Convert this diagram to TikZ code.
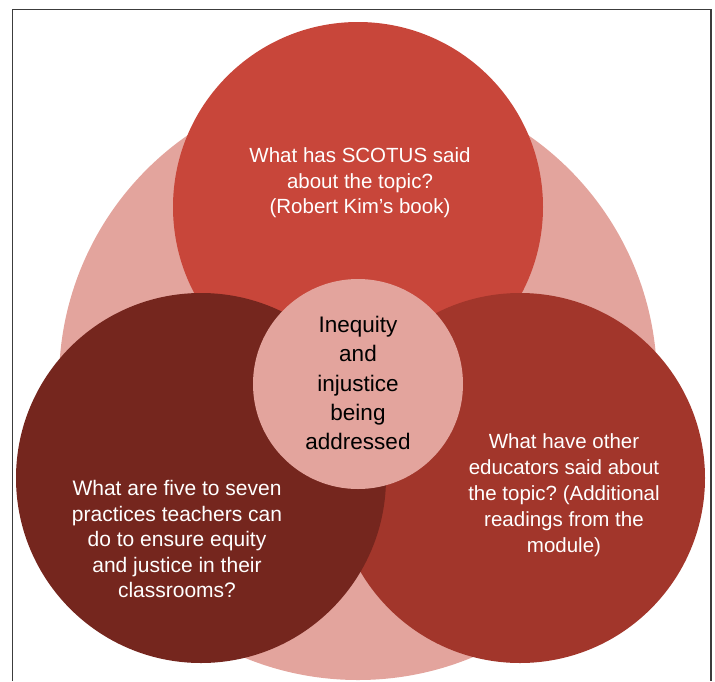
\documentclass[tikz,border=0pt]{standalone}
\usepackage{fontspec}
\setmainfont{Liberation Sans}
\frenchspacing
\definecolor{paleRose}{HTML}{E3A49D}
\definecolor{brickRed}{HTML}{C8463A}
\definecolor{rustRed}{HTML}{A2362B}
\definecolor{maroon}{HTML}{75261E}
\definecolor{frameGray}{HTML}{3C3C3C}
\begin{document}
\begin{tikzpicture}[x=1pt,y=-1pt,
  disc/.style={circle,inner sep=0pt,draw=none},
  qtext/.style={text=white,align=center,inner sep=0pt,
    font=\fontsize{20.5}{25.5}\selectfont},
  ctext/.style={text=black,align=center,inner sep=0pt,
    font=\fontsize{22.5}{29.3}\selectfont}]
  \useasboundingbox (0,0) rectangle (715,681);
  % frame, open at the bottom
  \draw[frameGray,line width=1.4pt] (12.5,681) -- (12.5,9.5) -- (711,9.5) -- (711,681);
  % back disc
  \node[disc,fill=paleRose,minimum size=598pt] (back) at (358,381) {};
  % three question discs
  \node[disc,fill=brickRed,minimum size=370pt] (top) at (358,207) {};
  \node[disc,fill=rustRed,minimum size=370pt] (right) at (520,478) {};
  \node[disc,fill=maroon,minimum size=370pt] (left) at (201,478) {};
  % centre disc
  \node[disc,fill=paleRose,minimum size=210pt] (core) at (358,384) {};
  % texts
  \node[qtext] (topText) at (360,183) {What has SCOTUS said\\about the topic?\\(Robert Kim’s book)};
  \node[qtext,font=\fontsize{21}{25.5}\selectfont] (leftText) at (177,539) {What are five to seven\\practices teachers can\\do to ensure equity\\and justice in their\\classrooms?};
  \node[qtext,font=\fontsize{20.5}{26}\selectfont] (rightText) at (564,495) {What have other\\educators said about\\the topic? (Additional\\readings from the\\module)};
  \node[ctext] (coreText) at (358,383) {Inequity\\and\\injustice\\being\\addressed};
\end{tikzpicture}
\end{document}
